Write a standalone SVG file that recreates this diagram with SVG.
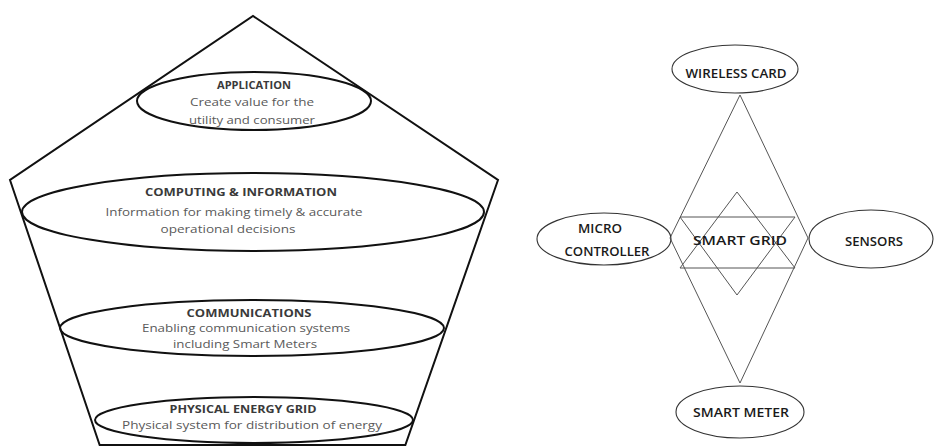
<svg xmlns="http://www.w3.org/2000/svg" width="934" height="446" viewBox="0 0 934 446">
<style>
.cone{fill:none;stroke:#111;stroke-width:2;stroke-linejoin:miter}
.lay{fill:none;stroke:#111;stroke-width:2}
.t{font-family:"Open Sans","Liberation Sans",sans-serif;font-size:11px;text-anchor:middle}
.h{font-weight:bold;fill:#3a3a3a}
.s{fill:#5a5a5a}
.rn{fill:none;stroke:#333;stroke-width:1.1}
.rl{fill:none;stroke:#555;stroke-width:1}
.rt{font-family:"Open Sans","Liberation Sans",sans-serif;font-size:12.5px;text-anchor:middle;fill:#1a1a1a;font-weight:600}
</style>
<rect width="934" height="446" fill="#fff"/>
<g id="cone">
<polyline class="cone" points="100,446 10,180 253,16 498,180 405,446"/>
<line class="cone" x1="100" y1="445" x2="405" y2="445"/>
</g>
<g id="application">
<ellipse class="lay" cx="254" cy="101" rx="117" ry="29"/>
<text class="t h" x="254" y="89" textLength="74" lengthAdjust="spacingAndGlyphs">APPLICATION</text>
<text class="t s" x="252" y="106" textLength="124" lengthAdjust="spacingAndGlyphs">Create value for the</text>
<text class="t s" x="252" y="124" textLength="126" lengthAdjust="spacingAndGlyphs">utility and consumer</text>
</g>
<g id="computing">
<ellipse class="lay" cx="253" cy="212" rx="231" ry="39"/>
<text class="t h" x="241" y="196" textLength="192" lengthAdjust="spacingAndGlyphs">COMPUTING &amp; INFORMATION</text>
<text class="t s" x="234" y="216" textLength="257" lengthAdjust="spacingAndGlyphs">Information for making timely &amp; accurate</text>
<text class="t s" x="228" y="233" textLength="135" lengthAdjust="spacingAndGlyphs">operational decisions</text>
</g>
<g id="communications">
<ellipse class="lay" cx="252" cy="328" rx="192" ry="28"/>
<text class="t h" x="249" y="317" font-size="10.5" textLength="125" lengthAdjust="spacingAndGlyphs">COMMUNICATIONS</text>
<text class="t s" x="246" y="332" font-size="10.5" textLength="208" lengthAdjust="spacingAndGlyphs">Enabling communication systems</text>
<text class="t s" x="245" y="348" textLength="144" lengthAdjust="spacingAndGlyphs">including Smart Meters</text>
</g>
<g id="physical">
<ellipse class="lay" cx="254" cy="420" rx="159" ry="23"/>
<text class="t h" x="243" y="413" textLength="147" lengthAdjust="spacingAndGlyphs">PHYSICAL ENERGY GRID</text>
<text class="t s" x="252" y="429" textLength="260" lengthAdjust="spacingAndGlyphs">Physical system for distribution of energy</text>
</g>
<g id="connectors">
<polygon class="rl" points="740,95 670,238 740,383 808,238"/>
</g>
<g id="smart-grid">
<polygon class="rl" points="737,192 680,268 795,268"/>
<polygon class="rl" points="680,217 795,217 737,295"/>
<text class="rt" x="740" y="245" textLength="94" lengthAdjust="spacingAndGlyphs">SMART GRID</text>
</g>
<g id="wireless-card">
<ellipse class="rn" cx="735" cy="69" rx="63" ry="24"/>
<text class="rt" x="736" y="78" textLength="101" lengthAdjust="spacingAndGlyphs">WIRELESS CARD</text>
</g>
<g id="micro-controller">
<ellipse class="rn" cx="604" cy="239" rx="67" ry="26"/>
<text class="rt" x="600" y="233" textLength="44" lengthAdjust="spacingAndGlyphs">MICRO</text>
<text class="rt" x="607" y="256" textLength="85" lengthAdjust="spacingAndGlyphs">CONTROLLER</text>
</g>
<g id="sensors">
<ellipse class="rn" cx="871" cy="239" rx="62" ry="29"/>
<text class="rt" x="874" y="246" textLength="58" lengthAdjust="spacingAndGlyphs">SENSORS</text>
</g>
<g id="smart-meter">
<ellipse class="rn" cx="740" cy="412" rx="64" ry="26"/>
<text class="rt" x="741" y="417" textLength="96" lengthAdjust="spacingAndGlyphs">SMART METER</text>
</g>
</svg>
